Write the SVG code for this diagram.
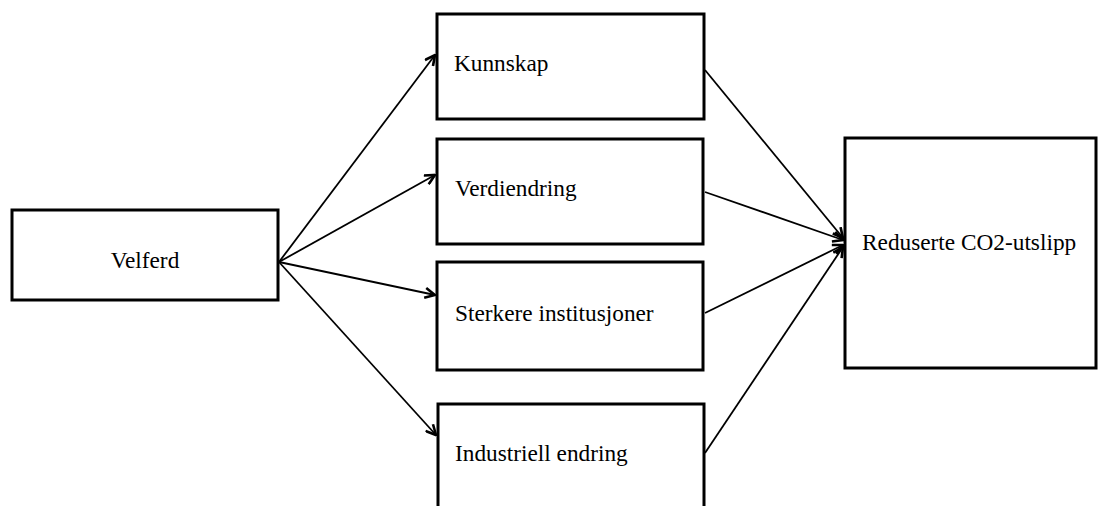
<svg xmlns="http://www.w3.org/2000/svg" width="1099" height="506" viewBox="0 0 1099 506">
<style>
.box{fill:#fff;stroke:#000;stroke-width:3}
.lbl{font-family:"Liberation Serif","Times New Roman",serif;font-size:23.3px;fill:#000}
.conn{stroke:#000;stroke-width:1.8;fill:none;marker-end:url(#arr)}
</style>
<defs>
<marker id="arr" viewBox="0 0 12 12" refX="11" refY="6" markerWidth="12" markerHeight="12" markerUnits="userSpaceOnUse" orient="auto">
<path d="M1,1 L11,6 L1,11" fill="none" stroke="#000" stroke-width="2.6"/>
</marker>
</defs>
<rect width="1099" height="506" fill="#fff"/>
<g id="connectors">
<line class="conn" x1="279" y1="262" x2="435" y2="55"/>
<line class="conn" x1="279" y1="262" x2="435" y2="175"/>
<line class="conn" x1="279" y1="262" x2="435" y2="295"/>
<line class="conn" x1="279" y1="262" x2="436" y2="435"/>
<line class="conn" x1="705" y1="70" x2="843" y2="238"/>
<line class="conn" x1="705" y1="192" x2="843" y2="240"/>
<line class="conn" x1="705" y1="313" x2="843" y2="245"/>
<line class="conn" x1="705" y1="453" x2="843" y2="247"/>
</g>
<g id="velferd">
<rect class="box" x="12" y="210" width="266" height="90"/>
<text class="lbl" x="145" y="268" text-anchor="middle">Velferd</text>
</g>
<g id="kunnskap">
<rect class="box" x="437" y="14" width="267" height="105"/>
<text class="lbl" x="454" y="71">Kunnskap</text>
</g>
<g id="verdiendring">
<rect class="box" x="437" y="139" width="266" height="105"/>
<text class="lbl" x="455" y="196">Verdiendring</text>
</g>
<g id="sterkere">
<rect class="box" x="437" y="262" width="266" height="108"/>
<text class="lbl" x="455" y="321">Sterkere institusjoner</text>
</g>
<g id="industriell">
<rect class="box" x="438" y="404" width="266" height="110"/>
<text class="lbl" x="455" y="461">Industriell endring</text>
</g>
<g id="reduserte">
<rect class="box" x="845" y="138" width="251" height="230"/>
<text class="lbl" x="862" y="250">Reduserte CO2-utslipp</text>
</g>
</svg>
